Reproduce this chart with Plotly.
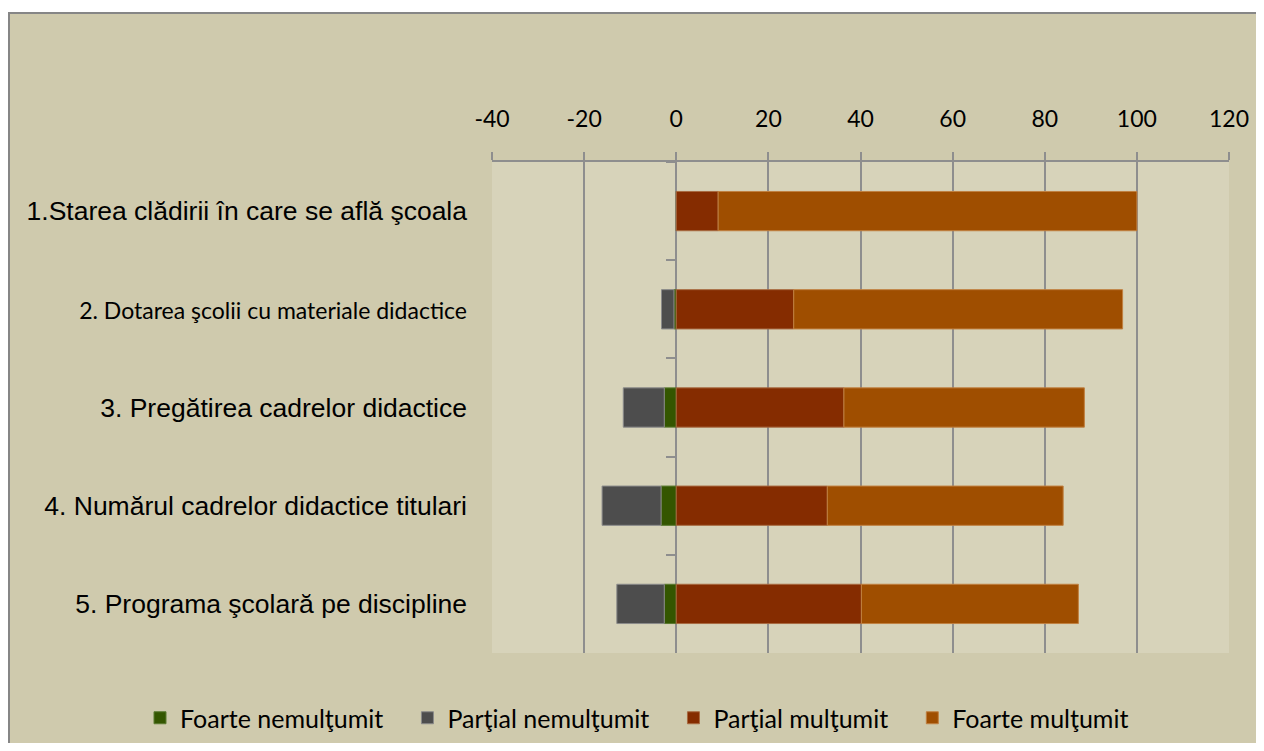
import plotly.graph_objects as go

categories = [
    "1.Starea clădirii în care se află şcoala",
    "2. Dotarea şcolii cu materiale didactice",
    "3. Pregătirea cadrelor didactice",
    "4. Numărul cadrelor didactice titulari",
    "5. Programa şcolară pe discipline",
]
foarte_nemultumit = [0.0, -0.5, -2.6, -3.3, -2.6]
partial_nemultumit = [0.0, -2.7, -8.9, -12.8, -10.3]
partial_multumit = [9.1, 25.5, 36.4, 32.8, 40.2]
foarte_multumit = [90.9, 71.4, 52.2, 51.2, 47.1]
x_ticks = [-40, -20, 0, 20, 40, 60, 80, 100, 120]

series = [
    ("Foarte nemulţumit", foarte_nemultumit, "#345600", "#5a7a30"),
    ("Parţial nemulţumit", partial_nemultumit, "#4d4d4d", "#8a8a8a"),
    ("Parţial mulţumit", partial_multumit, "#852c00", "#a86a40"),
    ("Foarte mulţumit", foarte_multumit, "#9f4e00", "#c08040"),
]

# the second label is set in a Calibri-like face in the original
tick_text = [
    c if i != 1 else '<span style="font-family:Lato;font-size:23px">' + c + "</span>"
    for i, c in enumerate(categories)
]

fig = go.Figure()
for name, vals, col, lcol in series:
    fig.add_trace(go.Bar(
        y=categories, x=vals, name=name + "&nbsp;" * 3, orientation="h",
        marker=dict(color=col, line=dict(color=lcol, width=1)),
    ))
# helper invisible trace for the category axis drawn at zero
fig.add_trace(go.Scatter(x=[None] * len(categories), y=categories, yaxis="y2",
                         showlegend=False, hoverinfo="skip", mode="markers"))

W, H = 1248, 735
L, R, T, B = 484, 27, 154, 90
pw, ph = W - L - R, H - T - B

fx0 = (1 - L) / pw
fy_top = 1 + (T - 5) / ph

fig.update_layout(
    width=W, height=H,
    margin=dict(l=L, r=R, t=T, b=B, pad=0, autoexpand=False),
    paper_bgcolor="#cfcaad",
    plot_bgcolor="#d7d3ba",
    barmode="relative",
    bargap=0.6,
    font=dict(family="Lato", color="#000000"),
    xaxis=dict(
        side="top", range=[-40, 120], tickvals=x_ticks, ticktext=[str(v) for v in x_ticks],
        showgrid=True, gridcolor="#8e8e8e", gridwidth=2, zeroline=False,
        showline=True, linecolor="#8e8e8e", linewidth=2,
        ticks="outside", ticklen=8, tickwidth=2, tickcolor="#8e8e8e",
        tickfont=dict(family="Lato", size=23, color="#000"),
        ticklabelstandoff=16, fixedrange=True,
    ),
    yaxis=dict(
        type="category", categoryarray=categories, range=[4.5, -0.5],
        tickvals=categories, ticktext=tick_text,
        showgrid=False, zeroline=False, showline=False, ticks="",
        tickfont=dict(family="Liberation Sans", size=26.5, color="#000"),
        ticklabelstandoff=24, fixedrange=True,
    ),
    yaxis2=dict(
        type="category", categoryarray=categories, range=[4.5, -0.5],
        overlaying="y", anchor="free", position=0.25, side="left",
        showgrid=False, zeroline=False, showline=False,
        ticks="outside", tickson="boundaries", ticklen=10, tickwidth=2, tickcolor="#8e8e8e",
        showticklabels=False, fixedrange=True,
    ),
    legend=dict(
        orientation="h", x=(132 - L) / pw, xanchor="left", y=-65 / ph, yanchor="middle",
        font=dict(family="Lato", size=25, color="#000"), bgcolor="rgba(0,0,0,0)",
        traceorder="normal",
    ),
    shapes=[
        dict(type="rect", xref="paper", yref="paper", x0=-2, x1=2, y0=fy_top, y1=fy_top + 0.05,
             fillcolor="#ffffff", line=dict(width=0), layer="below"),
        dict(type="rect", xref="paper", yref="paper", x0=fx0, x1=1.5, y0=fy_top, y1=-0.8,
             fillcolor="rgba(0,0,0,0)", line=dict(color="#868686", width=2), layer="below"),
    ],
)

fig.write_html("out.html")
